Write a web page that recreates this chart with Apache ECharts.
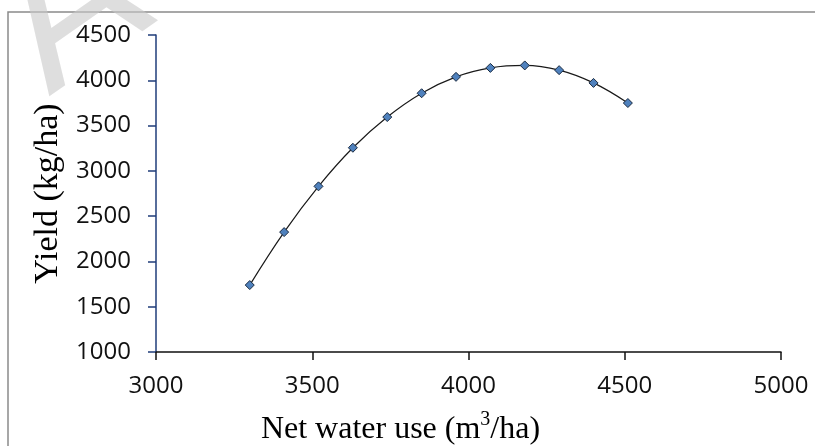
<!DOCTYPE html>
<html>
<head>
<meta charset="utf-8">
<script src="https://cdn.jsdelivr.net/npm/echarts@6/dist/echarts.min.js"></script>
<style>
html,body{margin:0;padding:0;background:#fff;}
#chart{width:815px;height:446px;}
</style>
</head>
<body>
<div id="chart"></div>
<script>
const netWaterUse = [3300, 3410, 3520, 3630, 3740, 3850, 3960, 4070, 4180, 4290, 4400, 4510];
const yieldValues = [1739, 2324, 2829, 3255, 3594, 3857, 4038, 4137, 4164, 4112, 3971, 3749];
const xAxisTitle = 'Net water use (m';
const yAxisTitle = 'Yield (kg/ha)';

const chart = echarts.init(document.getElementById('chart'), null, {renderer: 'canvas'});
const points = netWaterUse.map((x, i) => [x, yieldValues[i]]);

chart.setOption({
  animation: false,
  backgroundColor: '#ffffff',
  graphic: [
    {
      type: 'rect', z: -5, silent: true,
      shape: {x: 8, y: 12, width: 900, height: 500},
      style: {fill: 'none', stroke: '#8a8a8a', lineWidth: 1.5}
    },
    {
      type: 'text', z: 100, silent: true,
      x: 72, y: 13, rotation: 0.61,
      style: {text: 'A', fontSize: 200, fontFamily: 'Liberation Sans', fill: 'rgba(200,200,200,0.6)', textAlign: 'center', textVerticalAlign: 'middle'}
    }
  ],
  grid: {left: 156, right: 34, top: 35, bottom: 94, containLabel: false, outerBoundsMode: 'none'},
  xAxis: {
    type: 'value', min: 3000, max: 5000, interval: 500,
    name: '{a|' + xAxisTitle + '}{s|3}{a|/ha)}',
    nameLocation: 'middle', nameGap: 58,
    nameTextStyle: {
      padding: [0, 136, 0, 0],
      rich: {
        a: {fontFamily: 'Liberation Serif', fontSize: 32, color: '#000', lineHeight: 36, verticalAlign: 'bottom'},
        s: {fontFamily: 'Liberation Serif', fontSize: 20, color: '#000', lineHeight: 36, verticalAlign: 'top', padding: [0,0,14,0]}
      }
    },
    axisLine: {lineStyle: {color: '#111', width: 1.5}},
    axisTick: {show: true, length: 8, lineStyle: {color: '#111', width: 1.5}},
    axisLabel: {fontFamily: 'Open Sans', fontSize: 24, color: '#111', margin: 22, formatter: v => String(v)},
    splitLine: {show: false}
  },
  yAxis: {
    type: 'value', min: 1000, max: 4500, interval: 500,
    name: yAxisTitle, nameLocation: 'middle', nameGap: 82,
    nameTextStyle: {fontFamily: 'Liberation Serif', fontSize: 34, fontWeight: 'normal', color: '#000'},
    axisLine: {show: true, lineStyle: {color: '#1F3C7A', width: 1.5}},
    axisTick: {show: true, length: 8, lineStyle: {color: '#1F3C7A', width: 1.5}},
    axisLabel: {fontFamily: 'Open Sans', fontSize: 24, color: '#111', margin: 25, formatter: v => String(v)},
    splitLine: {show: false}
  },
  series: [{
    type: 'line',
    data: points,
    smooth: 0.4,
    symbol: 'diamond',
    symbolSize: 9,
    lineStyle: {color: '#1a1a1a', width: 1.2},
    itemStyle: {color: '#4F81BD', borderColor: '#1a2a40', borderWidth: 1}
  }]
});
</script>
</body>
</html>
